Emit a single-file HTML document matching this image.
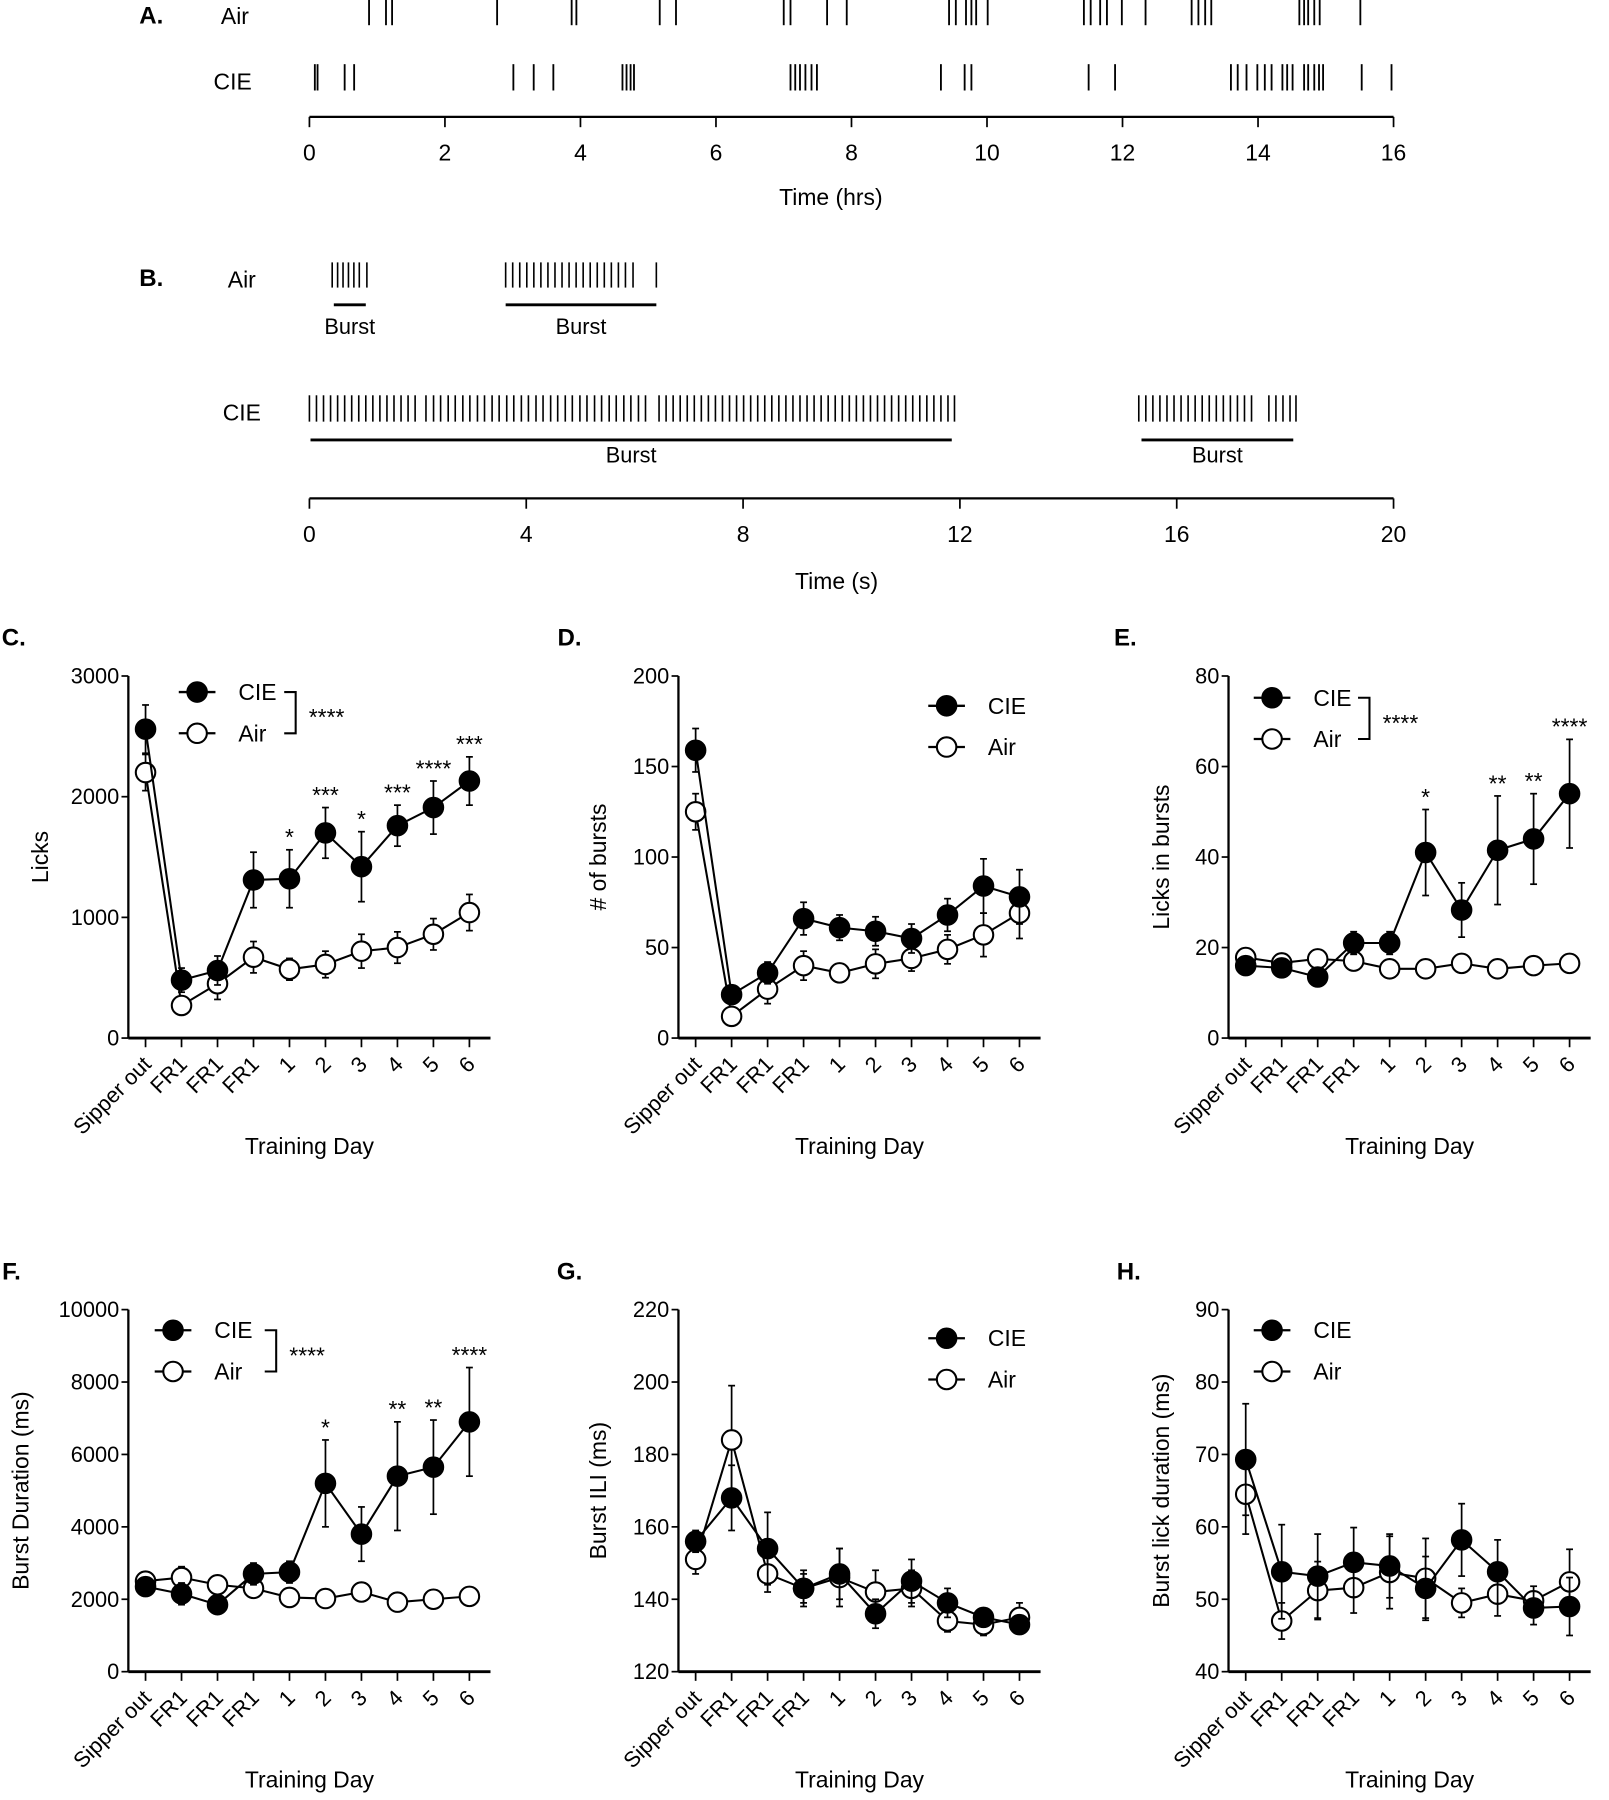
<!DOCTYPE html>
<html><head><meta charset="utf-8"><style>
html,body{margin:0;padding:0;background:#fff;}
svg{display:block;font-family:"Liberation Sans",sans-serif;}
</style></head><body>
<svg id="fig" width="1609" height="1800" viewBox="0 0 1404 1571" preserveAspectRatio="none" xmlns="http://www.w3.org/2000/svg"></svg>
<script>
// ---- Panel A raster data (hours) ----
const airHrs = [0.88,1.13,1.22,2.77,3.87,3.94,5.17,5.41,7.0,7.1,7.64,7.93,9.44,9.54,9.69,9.77,9.84,10.01,11.43,11.53,11.67,11.77,11.99,12.34,13.02,13.12,13.22,13.31,14.61,14.68,14.74,14.83,14.91,15.51];
const cieHrs = [0.08,0.12,0.52,0.66,3.01,3.31,3.6,4.62,4.68,4.74,4.79,7.1,7.17,7.24,7.32,7.41,7.49,9.32,9.67,9.77,11.5,11.89,13.6,13.7,13.83,13.99,14.1,14.2,14.36,14.43,14.51,14.68,14.74,14.83,14.9,14.96,15.53,15.97];
const hrsTicks = [0,2,4,6,8,10,12,14,16];
// ---- Panel B raster data (seconds) ----
const airB = [0.42,0.52,0.62,0.72,0.82,0.92,1.06, 3.62,3.75,3.88,4.01,4.14,4.27,4.4,4.53,4.66,4.79,4.92,5.05,5.18,5.31,5.44,5.57,5.7,5.83,5.97,6.4];
const cieB = [0.0,0.13,0.26,0.39,0.52,0.65,0.78,0.91,1.04,1.17,1.3,1.43,1.56,1.69,1.82,1.95,
2.15,2.29,2.42,2.56,2.69,2.83,2.96,3.1,3.23,3.37,3.5,3.64,3.77,3.91,4.04,4.18,4.31,4.45,4.58,4.72,4.85,4.99,5.12,5.26,5.39,5.53,5.66,5.8,5.93,6.07,6.2,
6.45,6.58,6.71,6.84,6.97,7.1,7.23,7.36,7.49,7.62,7.75,7.88,8.01,8.14,8.27,8.4,8.53,8.66,8.79,8.92,9.05,9.18,9.31,9.44,9.57,9.7,9.83,9.96,10.09,10.22,10.35,10.48,10.61,10.74,10.87,11.0,11.13,11.26,11.39,11.52,11.65,11.78,11.9,
15.3,15.43,15.56,15.69,15.82,15.95,16.08,16.21,16.34,16.47,16.6,16.73,16.86,16.99,17.12,17.25,17.38,17.7,17.83,17.96,18.09,18.2];
const secTicks = [0,4,8,12,16,20];
// ---- Panels C-H ----
const categories = ["Sipper out","FR1","FR1","FR1","1","2","3","4","5","6"];
const cCIE = [2560,480,560,1310,1320,1700,1420,1760,1910,2130];
const cCIEerr = [200,100,120,230,240,210,290,170,220,200];
const cAir = [2200,270,450,670,570,610,720,750,860,1040];
const cAirErr = [150,60,130,130,90,110,140,130,130,150];
const cStars = ["","","","","*","***","*","***","****","***"];
const cTicks = [0,1000,2000,3000];
const dCIE = [159,24,36,66,61,59,55,68,84,78];
const dCIEerr = [12,5,6,9,7,8,8,9,15,15];
const dAir = [125,12,27,40,36,41,44,49,57,69];
const dAirErr = [10,4,8,8,5,8,7,8,12,14];
const dTicks = [0,50,100,150,200];
const eCIE = [16,15.5,13.5,21,21,41,28.3,41.5,44,54];
const eCIEerr = [1,2,1,2.5,2.5,9.5,6,12,10,12];
const eAir = [17.8,16.6,17.5,17,15.3,15.3,16.5,15.3,16,16.5];
const eAirErr = [1,2,1,1,1,1,1,1,1,1];
const eStars = ["","","","","","*","","**","**","****"];
const eTicks = [0,20,40,60,80];
const fCIE = [2350,2150,1850,2700,2750,5200,3800,5400,5650,6900];
const fCIEerr = [200,300,150,300,300,1200,750,1500,1300,1500];
const fAir = [2500,2600,2400,2300,2050,2020,2200,1920,2000,2080];
const fAirErr = [150,300,150,200,150,100,150,100,100,100];
const fStars = ["","","","","","*","","**","**","****"];
const fTicks = [0,2000,4000,6000,8000,10000];
const gCIE = [156,168,154,143,147,136,145,139,135,133];
const gCIEerr = [3,9,10,4,7,4,6,4,2,2];
const gAir = [151,184,147,143,146,142,143,134,133,135];
const gAirErr = [4,15,5,5,8,6,5,3,3,4];
const gTicks = [120,140,160,180,200,220];
const hCIE = [69.3,53.8,53.2,55.1,54.6,51.5,58.2,53.8,48.8,49];
const hCIEerr = [7.7,6.5,5.8,4.8,4.4,4.4,5,4.4,2.3,4];
const hAir = [64.5,47,51.2,51.6,53.7,52.9,49.5,50.7,49.8,52.4];
const hAirErr = [5.5,2.5,4,3.5,5,5.5,2,3,2,4.5];
const hTicks = [40,50,60,70,80,90];

const NS="http://www.w3.org/2000/svg";
const svg=document.getElementById('fig');
function mk(tag,attrs,parent,text){const e=document.createElementNS(NS,tag);for(const k in attrs)e.setAttribute(k,attrs[k]);if(text!==undefined)e.textContent=text;(parent||svg).appendChild(e);return e;}
function txt(x,y,s,size,anchor,parent,extra){const t=mk('text',Object.assign({x:x,y:y,'font-size':size,'text-anchor':anchor||'middle','dominant-baseline':'central',fill:'#000'},extra||{}),parent,s);return t;}

// ---- Panel A ----
const gA=mk('g',{});


const lab=txt(132,14,'A.',21,'middle',gA,{'font-weight':'bold'});

txt(205,14,'Air',20,'middle',gA);
txt(203,71,'CIE',20,'middle',gA);
const xA=t=>270+(t-0)*(1216-270)/16;
airHrs.forEach(t=>{const l=mk('line',{x1:xA(t),x2:xA(t),y1:0,y2:22,stroke:'#000','stroke-width':1.6},gA);

});
cieHrs.forEach(t=>{const l=mk('line',{x1:xA(t),x2:xA(t),y1:56,y2:79,stroke:'#000','stroke-width':1.6},gA);

});
mk('line',{x1:270,x2:1216,y1:102,y2:102,stroke:'#000','stroke-width':2},gA);
hrsTicks.forEach(v=>{mk('line',{x1:xA(v),x2:xA(v),y1:102,y2:111,stroke:'#000','stroke-width':1.5},gA);txt(xA(v),133,String(v),20,'middle',gA);});
const ta=txt(725,172,'Time (hrs)',20,'middle',gA);

// ---- Panel B ----
const gB=mk('g',{});


txt(132,243,'B.',21,'middle',gB,{'font-weight':'bold'});
txt(211,244,'Air',20,'middle',gB);
txt(211,360,'CIE',20,'middle',gB);
const xB=t=>270+t*(1216-270)/20;
airB.forEach(t=>{const l=mk('line',{x1:xB(t),x2:xB(t),y1:229,y2:251,stroke:'#000','stroke-width':1.4},gB);

});
cieB.forEach(t=>{const l=mk('line',{x1:xB(t),x2:xB(t),y1:345,y2:368,stroke:'#000','stroke-width':1.4},gB);

});
[[0.45,1.04,266,'Air'],[3.62,6.4,266,'Air'],[0.02,11.85,384,'CIE'],[15.35,18.15,384,'CIE']].forEach(b=>{
 mk('line',{x1:xB(b[0]),x2:xB(b[1]),y1:b[2],y2:b[2],stroke:'#000','stroke-width':2.5},gB);
 const t=txt((xB(b[0])+xB(b[1]))/2,b[2]+(b[3]==='Air'?19:13),'Burst',19,'middle',gB);
 
});
mk('line',{x1:270,x2:1216,y1:435,y2:435,stroke:'#000','stroke-width':2},gB);
secTicks.forEach(v=>{mk('line',{x1:xB(v),x2:xB(v),y1:435,y2:444,stroke:'#000','stroke-width':1.5},gB);txt(xB(v),466,String(v),20,'middle',gB);});
const tb=txt(730,507,'Time (s)',20,'middle',gB);

// ---- line panels ----
function panel(o){
 const g=mk('g',{});
 
 
 const ax=o.ax, top=o.top, bot=o.top+316;
 const ymin=o.ticks[0], ymax=o.ticks[o.ticks.length-1];
 const ys=v=>bot-(v-ymin)/(ymax-ymin)*(bot-top);
 const xs=i=>ax+15+i*31.4;
 const L=txt(o.lx,o.top-33,o.letter,21,'middle',g,{'font-weight':'bold'});
 
 mk('line',{x1:ax,x2:ax,y1:top,y2:bot,stroke:'#000','stroke-width':2},g);
 mk('line',{x1:ax,x2:ax+316,y1:bot,y2:bot,stroke:'#000','stroke-width':2.5},g);
 o.ticks.forEach(v=>{mk('line',{x1:ax-6,x2:ax,y1:ys(v),y2:ys(v),stroke:'#000','stroke-width':1.5},g);
  const t=txt(ax-8,ys(v),String(v),19,'end',g);});
 categories.forEach((c,i)=>{mk('line',{x1:xs(i),x2:xs(i),y1:bot,y2:bot+8,stroke:'#000','stroke-width':1.5},g);
  const t=mk('text',{x:xs(i)+6,y:bot+24,'font-size':19,'text-anchor':'end',transform:`rotate(-45 ${xs(i)+6} ${bot+24})`},g,c);
  });
 const xt=txt(ax+158,bot+94,'Training Day',20,'middle',g);
 const yt=mk('text',{x:o.ylx,y:top+158,'font-size':20,'text-anchor':'middle','dominant-baseline':'central',transform:`rotate(-90 ${o.ylx} ${top+158})`},g,o.ylabel);
 
 function series(vals,errs,fill,nm){
  const sg=mk('g',{},g);
  
  
  vals.forEach((v,i)=>{const e=errs[i];
   mk('line',{x1:xs(i),x2:xs(i),y1:ys(v-e),y2:ys(v+e),stroke:'#000','stroke-width':1.5},sg);
   mk('line',{x1:xs(i)-3,x2:xs(i)+3,y1:ys(v+e),y2:ys(v+e),stroke:'#000','stroke-width':1.5},sg);
   mk('line',{x1:xs(i)-3,x2:xs(i)+3,y1:ys(v-e),y2:ys(v-e),stroke:'#000','stroke-width':1.5},sg);});
  mk('polyline',{points:vals.map((v,i)=>xs(i)+','+ys(v)).join(' '),fill:'none',stroke:'#000','stroke-width':1.8},sg);
  vals.forEach((v,i)=>{const c=mk('circle',{cx:xs(i),cy:ys(v),r:8.5,fill:fill,stroke:'#000','stroke-width':1.8},sg);
   
   });
 }
 series(o.air,o.airErr,'#fff','air-series');
 series(o.cie,o.cieErr,'#000','cie-series');
 if(o.stars)o.stars.forEach((s,i)=>{if(!s)return;const t=txt(xs(i),ys(o.cie[i]+o.cieErr[i])-11,s,20,'middle',g);
  });
 // legend
 const lg=mk('g',{},g);
 
 
 [['CIE','#000',o.leg[1]],['Air','#fff',o.leg[1]+36]].forEach(r=>{
  mk('line',{x1:o.leg[0]-16,x2:o.leg[0]+16,y1:r[2],y2:r[2],stroke:'#000','stroke-width':2},lg);
  mk('circle',{cx:o.leg[0],cy:r[2],r:8.5,fill:r[1],stroke:'#000','stroke-width':1.8},lg);
  const t=txt(o.leg[0]+36,r[2],r[0],20,'start',lg);});
 if(o.bracket){const bx=o.leg[0]+(o.bx||76);
  mk('polyline',{points:`${bx-10},${o.leg[1]} ${bx},${o.leg[1]} ${bx},${o.leg[1]+36} ${bx-10},${o.leg[1]+36}`,fill:'none',stroke:'#000','stroke-width':1.8},lg);
  txt(bx+27,o.leg[1]+22,'****',20,'middle',lg);}
}
panel({name:'panel-c-licks',letter:'C.',lx:12,ax:112,top:590,ticks:cTicks,ylabel:'Licks',ylx:35,cie:cCIE,cieErr:cCIEerr,air:cAir,airErr:cAirErr,stars:cStars,leg:[172,604],bracket:true,bx:86});
panel({name:'panel-d-bursts',letter:'D.',lx:497,ax:592,top:590,ticks:dTicks,ylabel:'# of bursts',ylx:522,cie:dCIE,cieErr:dCIEerr,air:dAir,airErr:dAirErr,leg:[826,616]});
panel({name:'panel-e-licks-in-bursts',letter:'E.',lx:982,ax:1072,top:590,ticks:eTicks,ylabel:'Licks in bursts',ylx:1013,cie:eCIE,cieErr:eCIEerr,air:eAir,airErr:eAirErr,stars:eStars,leg:[1110,609],bracket:true,bx:85});
panel({name:'panel-f-burst-duration',letter:'F.',lx:10,ax:112,top:1143,ticks:fTicks,ylabel:'Burst Duration (ms)',ylx:18,cie:fCIE,cieErr:fCIEerr,air:fAir,airErr:fAirErr,stars:fStars,leg:[151,1161],bracket:true,bx:90});
panel({name:'panel-g-burst-ili',letter:'G.',lx:497,ax:592,top:1143,ticks:gTicks,ylabel:'Burst ILI (ms)',ylx:522,cie:gCIE,cieErr:gCIEerr,air:gAir,airErr:gAirErr,leg:[826,1168]});
panel({name:'panel-h-burst-lick-duration',letter:'H.',lx:985,ax:1072,top:1143,ticks:hTicks,ylabel:'Burst lick duration (ms)',ylx:1013,cie:hCIE,cieErr:hCIEerr,air:hAir,airErr:hAirErr,leg:[1110,1161]});
</script>
</body></html>
